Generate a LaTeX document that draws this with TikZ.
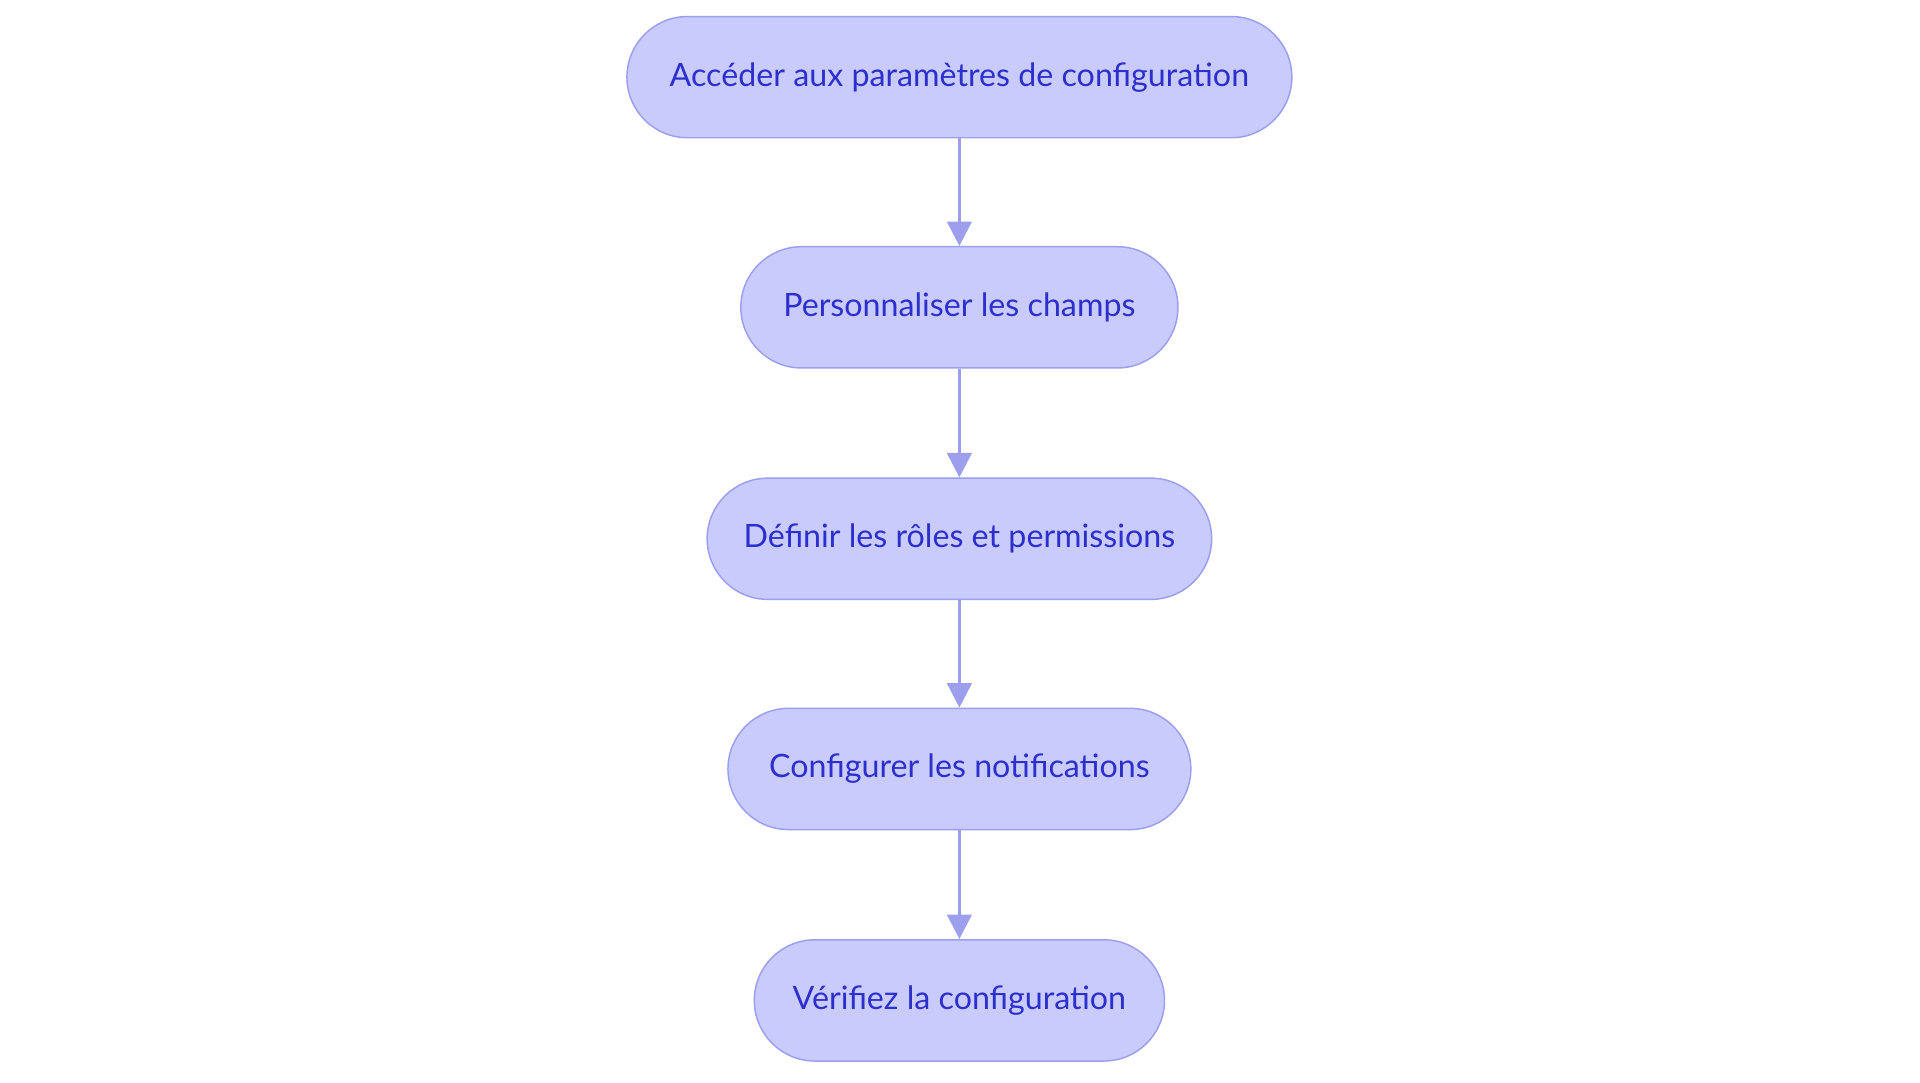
\documentclass[tikz,border=0pt]{standalone}
\usepackage{fontspec}
\setmainfont{Lato}
\usetikzlibrary{arrows.meta}
\definecolor{nfill}{HTML}{CACBFD}
\definecolor{nline}{HTML}{9B9FEE}
\definecolor{ntext}{HTML}{2B2FCB}
\begin{document}
\begin{tikzpicture}[x=1pt,y=1pt,
  box/.style={draw=nline,line width=1.2pt,fill=nfill,rounded corners=49.5pt,minimum height=99pt,text=ntext,font=\fontsize{26.3}{30}\selectfont,inner sep=0pt},
  arr/.style={draw=nline,line width=2.5pt,-{Triangle[length=20pt,width=20pt]}}]
\useasboundingbox (0,0) rectangle (1568,884);
\fill[white] (0,0) rectangle (1568,884);
\node[box,minimum width=543pt] (a) at (783.5,821) {Accéder aux paramètres de configuration};
\node[box,minimum width=357pt] (b) at (783.5,633) {Personnaliser les champs};
\node[box,minimum width=412pt] (c) at (783.5,444) {Définir les rôles et permissions};
\node[box,minimum width=378pt] (d) at (783.5,256) {Configurer les notifications};
\node[box,minimum width=335pt] (e) at (783.5,67) {Vérifiez la configuration};
\draw[arr] (a) -- (b);
\draw[arr] (b) -- (c);
\draw[arr] (c) -- (d);
\draw[arr] (d) -- (e);
\end{tikzpicture}
\end{document}
